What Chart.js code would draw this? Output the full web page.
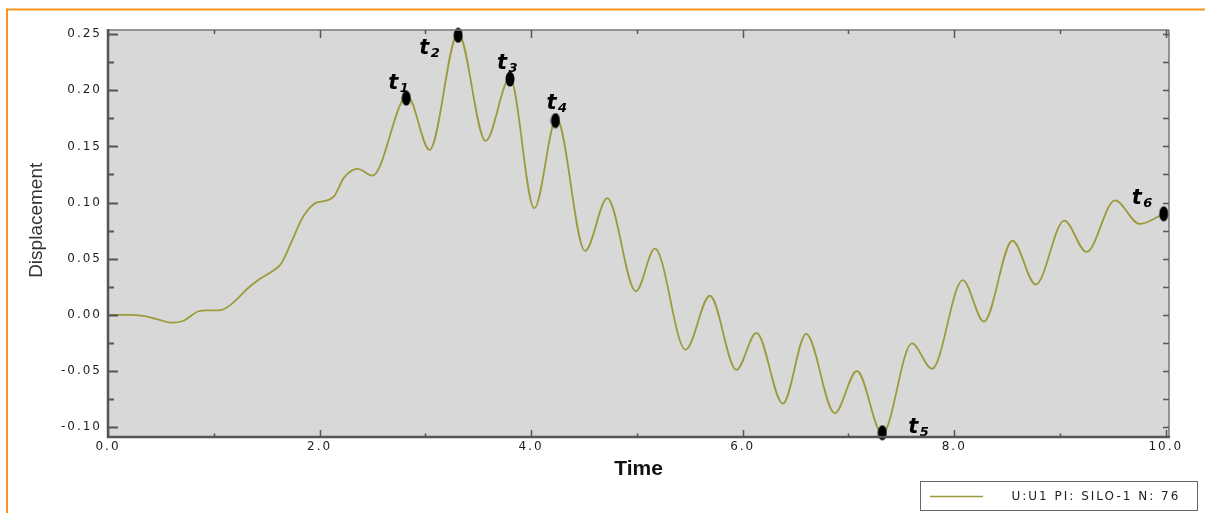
<!DOCTYPE html>
<html>
<head>
<meta charset="utf-8">
<script src="https://cdn.jsdelivr.net/npm/chart.js@4.4.1/dist/chart.umd.min.js"></script>
<style>
  html, body { margin: 0; padding: 0; background: #fff; }
  canvas { display: block; }
</style>
</head>
<body>
<canvas id="plot" width="1205" height="513"></canvas>
<script>
// values
const time = [0.00, 0.20, 0.33, 0.47, 0.60, 0.72, 0.85, 0.94, 1.05, 1.13, 1.22, 1.32, 1.42, 1.57, 1.64, 1.73,
  1.83, 1.89, 1.97, 2.03, 2.14, 2.23, 2.36, 2.50, 2.83, 3.04, 3.31, 3.57, 3.80,
  4.03, 4.24, 4.51, 4.72, 4.99, 5.17, 5.46, 5.69, 5.94, 6.13, 6.38, 6.60, 6.87, 7.08, 7.32,
  7.60, 7.79, 8.08, 8.28, 8.55, 8.77, 9.04, 9.25, 9.52, 9.75, 9.98];
const disp = [0.000, 0.000, -0.001, -0.004, -0.007, -0.005, 0.003, 0.004, 0.004, 0.007, 0.014, 0.0235, 0.031, 0.040, 0.046, 0.064,
  0.085, 0.0935, 0.100, 0.101, 0.106, 0.122, 0.130, 0.124, 0.195, 0.147, 0.251, 0.155, 0.211,
  0.095, 0.175, 0.057, 0.104, 0.021, 0.059, -0.031, 0.017, -0.049, -0.016, -0.079, -0.017, -0.0875, -0.050, -0.106,
  -0.0255, -0.048, 0.031, -0.006, 0.066, 0.027, 0.084, 0.056, 0.102, 0.081, 0.090];

const tagTime = [2.82, 3.31, 3.80, 4.23, 7.32, 9.98];
const tagDisp = [0.193, 0.249, 0.210, 0.173, -0.105, 0.090];
const tagNames = ['1', '2', '3', '4', '5', '6'];

const seriesLabel = 'U:U1 PI: SILO-1 N: 76';
const xTitle = 'Time';
const yTitle = 'Displacement';

const OLIVE = '#9c9b3c';
const AXIS = '#555';

// where each t label sits relative to its marker (px)
const tagOffset = [[-18, -9], [-39, 19], [-13, -10], [-9, -12], [26, 0], [-32, -10]];

function markerImg() {
  const c = document.createElement('canvas');
  c.width = 10; c.height = 16;
  const g = c.getContext('2d');
  g.fillStyle = '#000';
  g.beginPath();
  g.ellipse(5, 8, 4.5, 7.5, 0, 0, Math.PI * 2);
  g.fill();
  return c;
}

function seg(ctx, x1, y1, x2, y2) {
  ctx.beginPath(); ctx.moveTo(x1, y1); ctx.lineTo(x2, y2); ctx.stroke();
}

const decor = {
  id: 'decor',
  beforeDraw(chart) {
    const { ctx, chartArea: a } = chart;
    ctx.letterSpacing = '0px';
    ctx.save();
    ctx.fillStyle = '#fff';
    ctx.fillRect(0, 0, chart.width, chart.height);
    ctx.fillStyle = '#d8d8d8';
    ctx.fillRect(a.left, a.top, a.right - a.left, a.bottom - a.top);
    ctx.strokeStyle = '#f7931e';
    ctx.lineWidth = 2;
    ctx.beginPath();
    ctx.moveTo(7, chart.height); ctx.lineTo(7, 9.5); ctx.lineTo(chart.width, 9.5);
    ctx.stroke();
    ctx.restore();
  },
  afterDatasetsDraw(chart) {
    // tick labels are drawn after this (ticks.z = 1), spaced out like the original
    chart.ctx.letterSpacing = '2px';
  },
  afterDraw(chart) {
    const { ctx, chartArea: a } = chart;
    const xs = chart.scales.x, ys = chart.scales.y;
    ctx.save();
    ctx.letterSpacing = '0px';

    // frame
    ctx.strokeStyle = '#777'; ctx.lineWidth = 1.5;
    seg(ctx, a.left, a.top, a.right, a.top);
    seg(ctx, a.right, a.top, a.right, a.bottom);
    ctx.strokeStyle = AXIS; ctx.lineWidth = 2.5;
    seg(ctx, a.left, a.top - 1, a.left, a.bottom + 1);
    seg(ctx, a.left - 1, a.bottom, a.right + 1, a.bottom);

    // inward tick marks
    ys.ticks.forEach(t => {
      const py = Math.round(ys.getPixelForValue(t.value)) + 0.5;
      const major = t.label !== '';
      ctx.strokeStyle = AXIS; ctx.lineWidth = 2;
      seg(ctx, a.left, py, a.left + (major ? 10 : 6), py);
      ctx.lineWidth = 1.5;
      seg(ctx, a.right - 6, py, a.right, py);
    });
    xs.ticks.forEach(t => {
      const px = Math.round(xs.getPixelForValue(t.value)) + 0.5;
      const major = t.label !== '';
      ctx.strokeStyle = AXIS; ctx.lineWidth = 1.5;
      seg(ctx, px, a.bottom, px, a.bottom - (major ? 7 : 3.5));
      seg(ctx, px, a.top, px, a.top + (major ? 8 : 4));
    });

    // t labels
    ctx.fillStyle = '#000';
    ctx.textAlign = 'left';
    ctx.textBaseline = 'alphabetic';
    tagTime.forEach((tx, i) => {
      const mx = xs.getPixelForValue(tx), my = ys.getPixelForValue(tagDisp[i]);
      const [dx, dy] = tagOffset[i];
      ctx.font = 'bold italic 21px "DejaVu Sans"';
      ctx.fillText('t', mx + dx, my + dy);
      const w = ctx.measureText('t').width;
      ctx.font = 'bold italic 13px "DejaVu Sans"';
      ctx.fillText(tagNames[i], mx + dx + w + 1.5, my + dy + 3);
    });

    // legend box
    ctx.fillStyle = '#fff';
    ctx.fillRect(920.5, 481.5, 277, 29);
    ctx.strokeStyle = '#666'; ctx.lineWidth = 1;
    ctx.strokeRect(920.5, 481.5, 277, 29);
    ctx.strokeStyle = OLIVE; ctx.lineWidth = 1.5;
    seg(ctx, 930, 496.5, 983, 496.5);
    ctx.letterSpacing = '2px';
    ctx.fillStyle = '#222';
    ctx.font = '12px "DejaVu Sans"';
    ctx.textBaseline = 'middle';
    ctx.fillText(chart.data.datasets[0].label, 1011.5, 497);
    ctx.restore();
    ctx.letterSpacing = '0px';
  }
};

new Chart(document.getElementById('plot'), {
  type: 'line',
  data: {
    datasets: [
      {
        label: seriesLabel,
        data: time.map((t, i) => ({ x: t, y: disp[i] })),
        borderColor: OLIVE,
        borderWidth: 1.8,
        pointRadius: 0,
        cubicInterpolationMode: 'monotone',
        fill: false,
        order: 1
      },
      {
        type: 'scatter',
        label: 'tags',
        data: tagTime.map((t, i) => ({ x: t, y: tagDisp[i] })),
        pointStyle: markerImg(),
        pointRadius: 8,
        pointHoverRadius: 8,
        clip: false,
        order: 0
      }
    ]
  },
  options: {
    responsive: false,
    animation: false,
    events: [],
    layout: { padding: { left: 0, top: 30, right: 36, bottom: 0 } },
    plugins: {
      legend: { display: false },
      tooltip: { enabled: false }
    },
    scales: {
      x: {
        type: 'linear',
        min: 0,
        max: 10.03,
        afterFit: s => { s.height = 76; },
        grid: { display: false, drawTicks: false },
        border: { display: false },
        ticks: {
          stepSize: 1,
          includeBounds: false,
          autoSkip: false,
          maxRotation: 0,
          padding: 3,
          z: 1,
          color: '#1e1e1e',
          font: { family: '"DejaVu Sans"', size: 12 },
          callback: v => (v % 2 === 0 ? v.toFixed(1) : '')
        },
        title: {
          display: true,
          text: xTitle,
          color: '#111',
          font: { family: '"Liberation Sans"', size: 21, weight: 'bold' },
          padding: { top: 0, bottom: 31 }
        }
      },
      y: {
        type: 'linear',
        min: -0.1088,
        max: 0.2537,
        afterFit: s => { s.width = 108; },
        grid: { display: false, drawTicks: false },
        border: { display: false },
        ticks: {
          stepSize: 0.025,
          includeBounds: false,
          autoSkip: false,
          padding: 6,
          z: 1,
          color: '#1e1e1e',
          font: { family: '"DejaVu Sans"', size: 12 },
          callback: v => (Math.abs(Math.round(v * 1000)) % 50 === 0 ? v.toFixed(2) : '')
        },
        title: {
          display: true,
          text: '     ' + yTitle,
          color: '#333',
          font: { family: '"Liberation Sans"', size: 19 },
          padding: { top: 25, bottom: 0 }
        }
      }
    }
  },
  plugins: [decor]
});
</script>
</body>
</html>
